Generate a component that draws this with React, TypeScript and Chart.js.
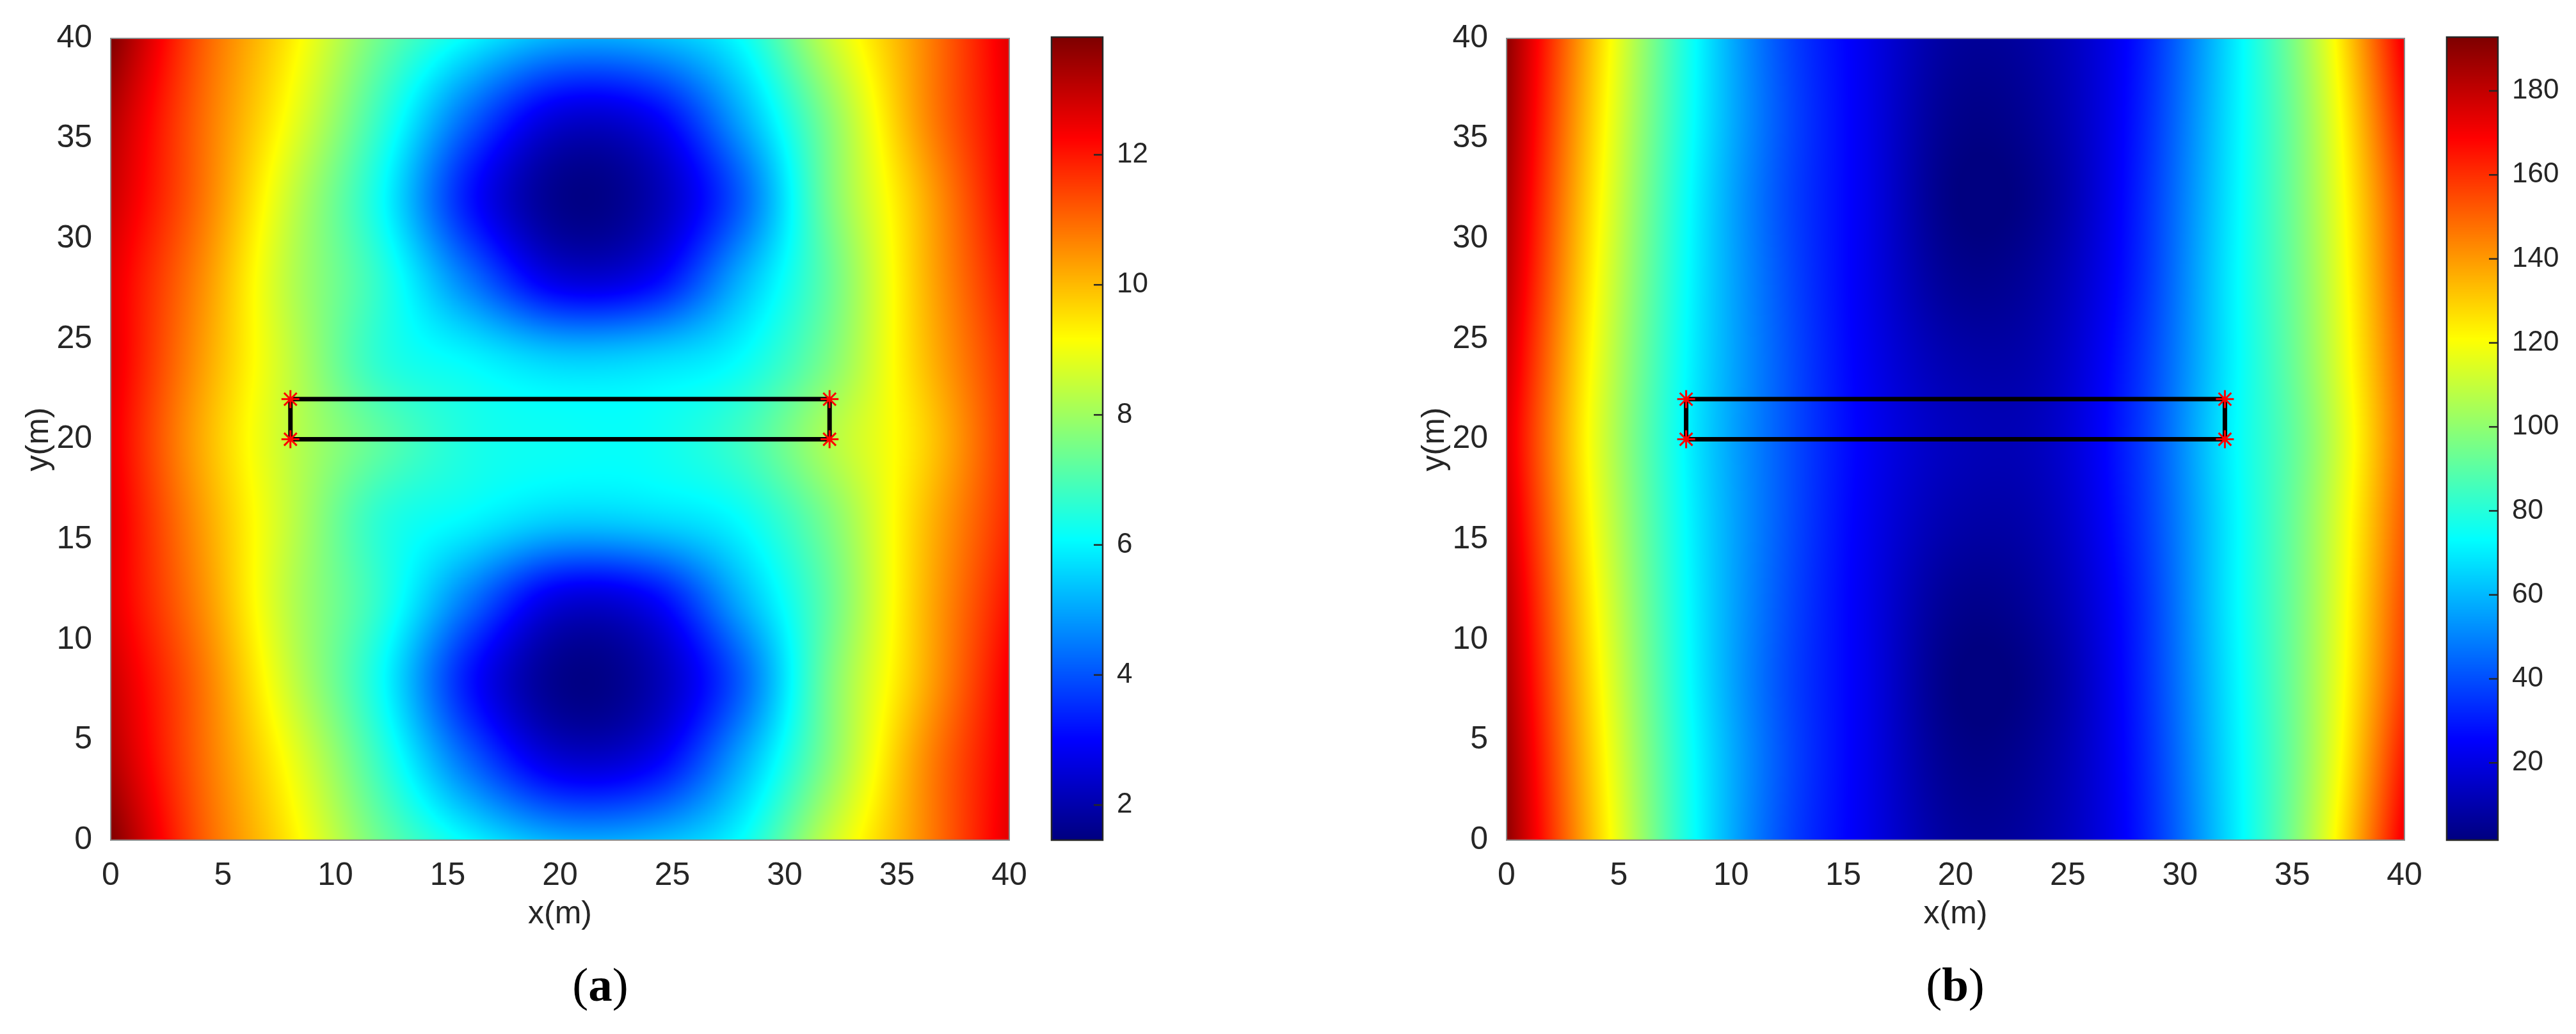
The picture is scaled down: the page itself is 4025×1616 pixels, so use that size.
import React, { useEffect, useRef } from 'react';
import { Chart, registerables } from 'chart.js';

Chart.register(...registerables);

// ---------- data ----------
const GRID_X = [0, 4, 8, 12, 16, 20, 24, 28, 32, 36, 40];
const GRID_Y = [40, 36, 32, 28, 24, 20, 16, 12, 8, 4, 0];

// panel (a): one row per GRID_Y entry, one value per GRID_X entry
const FIELD_A = [
  [13.8, 11.2, 9.4, 7.4, 6.0, 5.1, 5.2, 6.1, 8.5, 10.5, 12.6],
  [13.2, 11.0, 9.0, 6.7, 4.2, 2.5, 2.8, 5.0, 7.7, 10.4, 12.5],
  [12.9, 10.9, 8.5, 6.2, 3.2, 1.6, 2.0, 4.1, 7.5, 10.0, 12.4],
  [12.6, 10.6, 8.3, 6.6, 4.4, 2.6, 2.9, 5.1, 7.3, 9.9, 12.1],
  [12.6, 10.4, 8.4, 6.6, 6.0, 5.5, 5.6, 6.1, 7.6, 9.8, 11.8],
  [12.5, 10.2, 8.4, 7.2, 6.4, 6.2, 6.2, 6.8, 8.2, 9.6, 11.7],
  [12.6, 10.4, 8.4, 6.6, 6.0, 5.5, 5.6, 6.1, 7.6, 9.8, 11.8],
  [12.6, 10.6, 8.3, 6.6, 4.4, 2.6, 2.9, 5.1, 7.3, 9.9, 12.1],
  [12.9, 10.9, 8.5, 6.2, 3.2, 1.6, 2.0, 4.1, 7.5, 10.0, 12.4],
  [13.2, 11.0, 9.0, 6.7, 4.2, 2.5, 2.8, 5.0, 7.7, 10.4, 12.5],
  [13.8, 11.2, 9.4, 7.4, 6.0, 5.1, 5.2, 6.1, 8.5, 10.5, 12.6],
];

// panel (b)
const FIELD_B = [
  [190, 130, 78, 42, 22, 7, 10, 28, 65, 108, 172],
  [188, 127, 77, 43, 22, 4, 8, 29, 66, 105, 165],
  [185, 124, 75, 42, 22, 2, 6, 30, 67, 104, 158],
  [182, 121, 74, 43, 22, 5, 9, 31, 68, 103, 155],
  [178, 118, 73, 44, 23, 10, 12, 33, 68, 102, 152],
  [175, 116, 72, 44, 24, 13, 14, 34, 69, 100, 150],
  [178, 118, 73, 44, 23, 10, 12, 33, 68, 102, 152],
  [182, 121, 74, 43, 22, 5, 9, 31, 68, 103, 155],
  [185, 124, 75, 42, 22, 2, 6, 30, 67, 104, 158],
  [188, 127, 77, 43, 22, 4, 8, 29, 66, 105, 165],
  [190, 130, 78, 42, 22, 7, 10, 28, 65, 108, 172],
];

const CBAR_A = [1.46, 13.79];
const CBAR_B = [1.6, 192.5];
const CBAR_STEP_A = 2;
const CBAR_STEP_B = 20;

const AXIS_RANGE = [0, 40];
const AXIS_STEP = 5;

const RECT_X = [8, 32, 32, 8, 8];
const RECT_Y = [20, 20, 22, 22, 20];
const ANCHOR_X = [8, 8, 32, 32];
const ANCHOR_Y = [20, 22, 20, 22];

const X_TITLE = 'x(m)';
const Y_TITLE = 'y(m)';

// ---------- helpers ----------
const TEXT = '#262626';
const SANS = "'Liberation Sans', Arial, Helvetica, sans-serif";

function clamp01(t: number) {
  return t < 0 ? 0 : t > 1 ? 1 : t;
}
function jet(t: number): [number, number, number] {
  t = clamp01(t);
  const r = clamp01(1.5 - Math.abs(4 * t - 3));
  const g = clamp01(1.5 - Math.abs(4 * t - 2));
  const b = clamp01(1.5 - Math.abs(4 * t - 1));
  return [Math.round(r * 255), Math.round(g * 255), Math.round(b * 255)];
}
function at(arr: number[], k: number) {
  const n = arr.length;
  if (k < 0) return 2 * arr[0] - arr[1];
  if (k > n - 1) return 2 * arr[n - 1] - arr[n - 2];
  return arr[k];
}
function cubic(arr: number[], f: number) {
  const n = arr.length;
  if (f < 0) f = 0;
  if (f > n - 1) f = n - 1;
  let k = Math.floor(f);
  if (k >= n - 1) k = n - 2;
  const t = f - k;
  const p0 = at(arr, k - 1), p1 = at(arr, k), p2 = at(arr, k + 1), p3 = at(arr, k + 2);
  return 0.5 * (2 * p1 + (-p0 + p2) * t + (2 * p0 - 5 * p1 + 4 * p2 - p3) * t * t + (-p0 + 3 * p1 - 3 * p2 + p3) * t * t * t);
}

function makeHeatmapPlugin(field: number[][], cbar: number[]) {
  let cache: HTMLCanvasElement | null = null;
  let key = '';
  return {
    id: 'heatmap',
    beforeDatasetsDraw(chart: any) {
      const { ctx, chartArea } = chart;
      const xs = chart.scales.x, ys = chart.scales.y;
      const left = Math.round(chartArea.left), top = Math.round(chartArea.top);
      const W = Math.round(chartArea.right) - left;
      const H = Math.round(chartArea.bottom) - top;
      const k = `${left},${top},${W},${H}`;
      if (!cache || key !== k) {
        key = k;
        const off = document.createElement('canvas');
        off.width = W;
        off.height = H;
        const octx = off.getContext('2d')!;
        const img = octx.createImageData(W, H);
        const d = img.data;
        const fxs = new Float64Array(W);
        for (let i = 0; i < W; i++) {
          const xv = xs.getValueForPixel(left + i + 0.5);
          fxs[i] = (xv - GRID_X[0]) / (GRID_X[1] - GRID_X[0]);
        }
        const nCols = GRID_X.length;
        const cols: number[][] = [];
        for (let c = 0; c < nCols; c++) cols.push(field.map((row) => row[c]));
        const rowVals = new Array(nCols).fill(0);
        const span = cbar[1] - cbar[0];
        for (let j = 0; j < H; j++) {
          const yv = ys.getValueForPixel(top + j + 0.5);
          const fy = (yv - GRID_Y[0]) / (GRID_Y[1] - GRID_Y[0]);
          for (let c = 0; c < nCols; c++) rowVals[c] = cubic(cols[c], fy);
          for (let i = 0; i < W; i++) {
            const v = cubic(rowVals, fxs[i]);
            const [r, g, b] = jet((v - cbar[0]) / span);
            const p = (j * W + i) * 4;
            d[p] = r;
            d[p + 1] = g;
            d[p + 2] = b;
            d[p + 3] = 255;
          }
        }
        octx.putImageData(img, 0, 0);
        cache = off;
      }
      ctx.save();
      ctx.drawImage(cache, left, top);
      ctx.strokeStyle = '#8a8a8a';
      ctx.lineWidth = 2;
      ctx.strokeRect(chartArea.left, chartArea.top, chartArea.right - chartArea.left, chartArea.bottom - chartArea.top);
      ctx.restore();
    },
  };
}

const colorbarPlugin = {
  id: 'colorbarDraw',
  afterDraw(chart: any) {
    const { ctx, chartArea } = chart;
    const cb = chart.scales.cb;
    const x0 = chartArea.right + 66;
    const w = 80;
    const top = Math.round(chartArea.top) - 2;
    const bottom = Math.round(chartArea.bottom);
    const span = cb.max - cb.min;
    ctx.save();
    for (let py = top; py < bottom; py++) {
      const v = cb.getValueForPixel(py + 0.5);
      const [r, g, b] = jet((v - cb.min) / span);
      ctx.fillStyle = `rgb(${r},${g},${b})`;
      ctx.fillRect(x0, py, w, 1);
    }
    ctx.strokeStyle = TEXT;
    ctx.lineWidth = 2.5;
    ctx.strokeRect(x0, top, w, bottom - top);
    for (const t of cb.ticks) {
      const py = cb.getPixelForValue(t.value);
      ctx.beginPath();
      ctx.moveTo(x0 + w - 14, py);
      ctx.lineTo(x0 + w, py);
      ctx.stroke();
    }
    ctx.restore();
  },
};

function buildConfig(field: number[][], cbar: number[], cbStep: number, padLeft: number, cbWidth: number) {
  const font = { family: SANS, size: 50 };
  return {
    type: 'scatter',
    data: {
      datasets: [
        {
          data: ANCHOR_X.map((x, i) => ({ x, y: ANCHOR_Y[i] })),
          showLine: false,
          pointStyle: 'star',
          pointRadius: 14,
          pointBorderWidth: 3,
          pointBorderColor: '#ff0000',
          pointBackgroundColor: '#ff0000',
        },
        {
          data: RECT_X.map((x, i) => ({ x, y: RECT_Y[i] })),
          showLine: true,
          borderColor: '#000000',
          borderWidth: 7,
          borderJoinStyle: 'miter',
          pointRadius: 0,
          fill: false,
          tension: 0,
        },
      ],
    },
    options: {
      responsive: false,
      animation: false,
      devicePixelRatio: 1,
      events: [],
      layout: { padding: { left: padLeft, top: 60, right: 0, bottom: 143 } },
      plugins: { legend: { display: false }, tooltip: { enabled: false } },
      scales: {
        x: {
          type: 'linear',
          position: 'bottom',
          min: AXIS_RANGE[0],
          max: AXIS_RANGE[1],
          grid: { display: false },
          border: { display: false },
          ticks: { stepSize: AXIS_STEP, font, color: TEXT, padding: 18, maxRotation: 0, autoSkip: false },
          title: { display: true, text: X_TITLE, font, color: TEXT, padding: { top: 0, bottom: 14 } },
          afterFit: (s: any) => {
            s.height = 160;
          },
        },
        y: {
          type: 'linear',
          position: 'left',
          min: AXIS_RANGE[0],
          max: AXIS_RANGE[1],
          grid: { display: false },
          border: { display: false },
          ticks: { stepSize: AXIS_STEP, font, color: TEXT, padding: 21, autoSkip: false },
          title: { display: true, text: Y_TITLE, font, color: TEXT, padding: { top: 31, bottom: 0 } },
          afterFit: (s: any) => {
            s.width = 173;
          },
        },
        cb: {
          type: 'linear',
          axis: 'y',
          position: 'right',
          min: cbar[0],
          max: cbar[1],
          grid: { display: true, drawOnChartArea: false, drawTicks: true, tickLength: 168, color: 'rgba(0,0,0,0)' },
          border: { display: false },
          ticks: { stepSize: cbStep, includeBounds: false, font: { family: SANS, size: 44 }, color: TEXT, padding: 0, autoSkip: false },
          afterFit: (s: any) => {
            s.width = cbWidth;
          },
        },
      },
    },
    plugins: [makeHeatmapPlugin(field, cbar), colorbarPlugin],
  };
}

export default function App() {
  const refA = useRef<HTMLCanvasElement>(null);
  const refB = useRef<HTMLCanvasElement>(null);

  useEffect(() => {
    const a = new Chart(refA.current!, buildConfig(FIELD_A, CBAR_A, CBAR_STEP_A, 0, 435) as any);
    const b = new Chart(refB.current!, buildConfig(FIELD_B, CBAR_B, CBAR_STEP_B, 169, 268) as any);
    return () => {
      a.destroy();
      b.destroy();
    };
  }, []);

  const sub: React.CSSProperties = {
    position: 'absolute',
    top: 1501,
    transform: 'translateX(-50%)',
    fontFamily: "'Liberation Serif', 'Times New Roman', serif",
    fontSize: 75,
    lineHeight: 1,
    color: '#000',
    whiteSpace: 'nowrap',
  };

  return (
    <div style={{ position: 'absolute', left: 0, top: 0, width: 4025, height: 1616, background: '#fff', overflow: 'hidden' }}>
      <canvas ref={refA} width={2012} height={1616} style={{ position: 'absolute', left: 0, top: 0, width: 2012, height: 1616 }} />
      <canvas ref={refB} width={2013} height={1616} style={{ position: 'absolute', left: 2012, top: 0, width: 2013, height: 1616 }} />
      <div style={{ ...sub, left: 938 }}>
        (<b>a</b>)
      </div>
      <div style={{ ...sub, left: 3055 }}>
        (<b>b</b>)
      </div>
    </div>
  );
}
